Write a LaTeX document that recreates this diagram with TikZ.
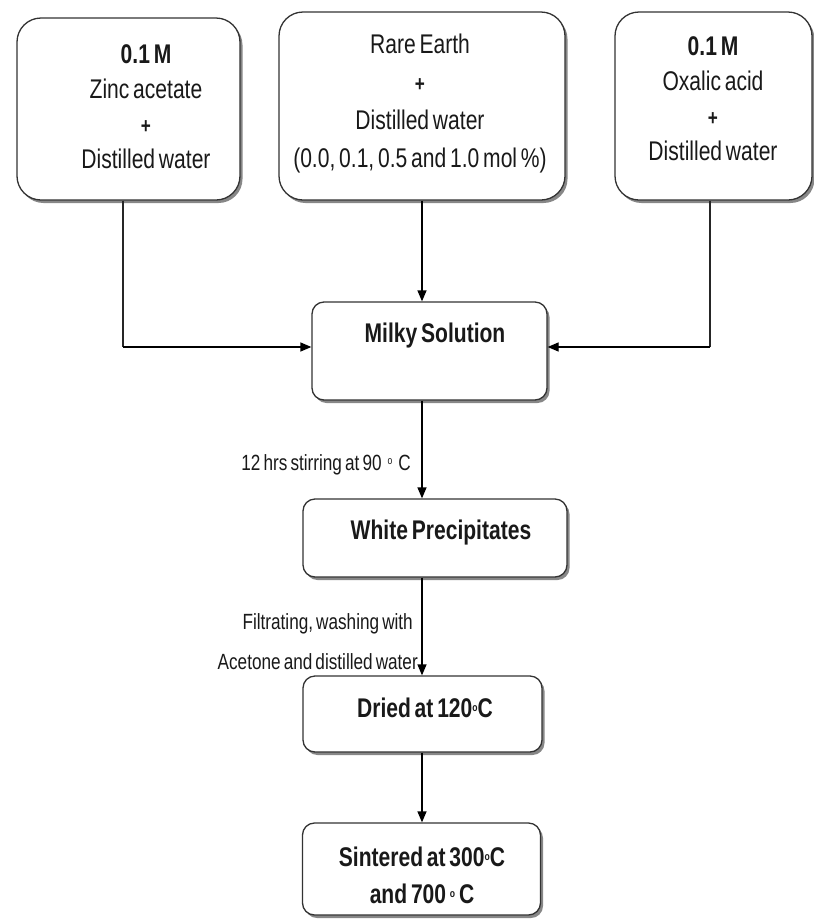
\documentclass[tikz,border=0pt]{standalone}
\usepackage{fontspec}
\setmainfont{Liberation Sans}[FakeStretch=0.78, WordSpace={0.65,0.5,0.3}]
\usetikzlibrary{shadows,arrows.meta}
\newcommand\mydeg{\raisebox{6pt}{\fontsize{11}{11}\selectfont o}}
\newcommand\myplus{{\fontsize{22}{22}\selectfont\textbf{+}}}
\begin{document}
\begin{tikzpicture}[x=1pt,y=-1pt,
  box/.style={draw=black!80, line width=1.3pt, fill=white, rounded corners=#1, inner sep=0pt,
    drop shadow={shadow xshift=2.5pt, shadow yshift=-3pt, fill=black!55, opacity=0.85}},
  box/.default=12pt,
  txt/.style={inner sep=0pt, font=\fontsize{27}{35}\selectfont, text width=300pt, align=flush center, anchor=base, text=black!90},
  btxt/.style={inner sep=0pt, font=\bfseries\fontsize{27}{37}\selectfont, text width=300pt, align=flush center, anchor=base, text=black!90},
  lab/.style={inner sep=0pt, font=\fontsize{22}{40}\selectfont, anchor=base east, align=right, text=black!90},
  arr/.style={draw=black, line width=1.3pt, -{Triangle[length=11pt,width=9pt]}},
  conn/.style={draw=black!85, line width=1.3pt}
]
\useasboundingbox (0,0) rectangle (814,919);
\fill[white] (0,0) rectangle (814,919);

% top boxes
\node[box=24pt, minimum width=223pt, minimum height=182pt] (zinc) at (128.5,109) {};
\node[box=24pt, minimum width=286pt, minimum height=188pt] (rare) at (422,106) {};
\node[box=24pt, minimum width=197pt, minimum height=188pt] (oxal) at (713.5,106) {};

\node[txt] (zinct) at (146,63) {\textbf{0.1 M}\\Zinc acetate\\\myplus\\Distilled water};
\node[txt, font=\fontsize{27}{38}\selectfont] (raret) at (420,53) {Rare Earth\\\myplus\\Distilled water\\(0.0, 0.1, 0.5 and 1.0 mol \%)};
\node[txt] (oxalt) at (713,55) {\textbf{0.1 M}\\Oxalic acid\\\myplus\\Distilled water};

% lower boxes
\node[box=12pt, minimum width=235pt, minimum height=98pt] (milky) at (429.5,351) {};
\node[box=12pt, minimum width=264pt, minimum height=78pt] (white) at (435,538) {};
\node[box=12pt, minimum width=239pt, minimum height=76pt] (dried) at (422.5,714) {};
\node[box=12pt, minimum width=238pt, minimum height=92pt] (sint) at (421.5,869) {};

\node[btxt] (milkyt) at (435,342) {Milky Solution};
\node[btxt] (whitet) at (441,539) {White Precipitates};
\node[btxt] (driedt) at (425,717) {Dried at 120\mydeg C};
\node[btxt] (sintt) at (422,866) {Sintered at 300\mydeg C\\and 700 \mydeg\ C};

% junction coordinates
\coordinate (j1) at (123,347);
\coordinate (j3) at (710,347);
\coordinate (ax) at (422,0);

% connectors
\draw[conn] (zinc.south -| j1) -- (j1);
\draw[arr] (j1) -- (milky.west |- j1);
\draw[arr] (rare.south -| ax) -- (milky.north -| ax);
\draw[conn] (oxal.south -| j3) -- (j3);
\draw[arr] (j3) -- (milky.east |- j3);
\draw[arr] (milky.south -| ax) -- (white.north -| ax);
\draw[arr] (white.south -| ax) -- (dried.north -| ax);
\draw[arr] (dried.south -| ax) -- (sint.north -| ax);

% labels
\node[lab] (l1) at (411,470) {12 hrs stirring at 90\hspace{6pt}\mydeg\hspace{6pt}C};
\node[lab] (l2) at (413,629) {Filtrating, washing with};
\node[lab] (l3) at (418,669) {Acetone and distilled water};
\end{tikzpicture}
\end{document}
